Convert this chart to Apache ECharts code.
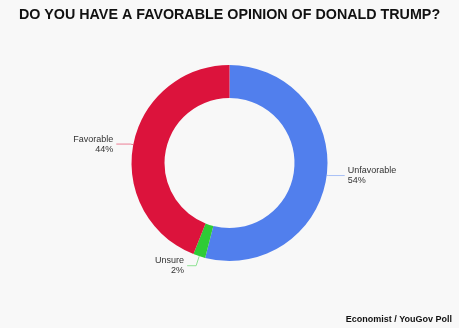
<!DOCTYPE html>
<html>
<head>
<meta charset="utf-8">
<script src="https://cdn.jsdelivr.net/npm/echarts@6/dist/echarts.min.js"></script>
<style>
html,body{margin:0;padding:0;background:#f8f8f8;}
#c{width:459px;height:328px;}
</style>
</head>
<body>
<div id="c"></div>
<script>
var categories = ['Unfavorable', 'Unsure', 'Favorable'];
var values = [54, 2, 44];
var colors = ['#517fed', '#2ecc36', '#dc133c'];
var lineColors = ['#a9c0f6', '#8fe394', '#ec7f95'];
var lineLen = [[2, 16], [10, 9], [3, 14]];

var chart = echarts.init(document.getElementById('c'), null, {renderer: 'canvas'});
var data = categories.map(function (c, i) {
  return {
    name: c,
    value: values[i],
    itemStyle: {color: colors[i]},
    labelLine: {length: lineLen[i][0], length2: lineLen[i][1], lineStyle: {color: lineColors[i], width: 1}}
  };
});
chart.setOption({
  backgroundColor: '#f8f8f8',
  animation: false,
  title: {
    text: 'DO YOU HAVE A FAVORABLE OPINION OF DONALD TRUMP?',
    left: 'center',
    top: 3,
    textStyle: {fontFamily: 'Liberation Sans, Arial, sans-serif', fontWeight: 'bold', fontSize: 14.3, color: '#111'}
  },
  graphic: [{
    type: 'text',
    right: 7,
    bottom: 4,
    style: {text: 'Economist / YouGov Poll', font: 'bold 9px "Liberation Sans", Arial, sans-serif', fill: '#111'}
  }],
  series: [{
    type: 'pie',
    center: [229.5, 163],
    radius: [65, 98],
    startAngle: 90,
    clockwise: true,
    avoidLabelOverlap: false,
    emphasis: {disabled: true},
    label: {
      show: true,
      position: 'outside',
      formatter: '{b}\n{d}%',
      fontFamily: 'Liberation Sans, Arial, sans-serif',
      fontSize: 9,
      lineHeight: 10,
      color: '#333',
      distanceToLabelLine: 3
    },
    labelLine: {show: true, smooth: false},
    data: data
  }]
});
</script>
</body>
</html>
